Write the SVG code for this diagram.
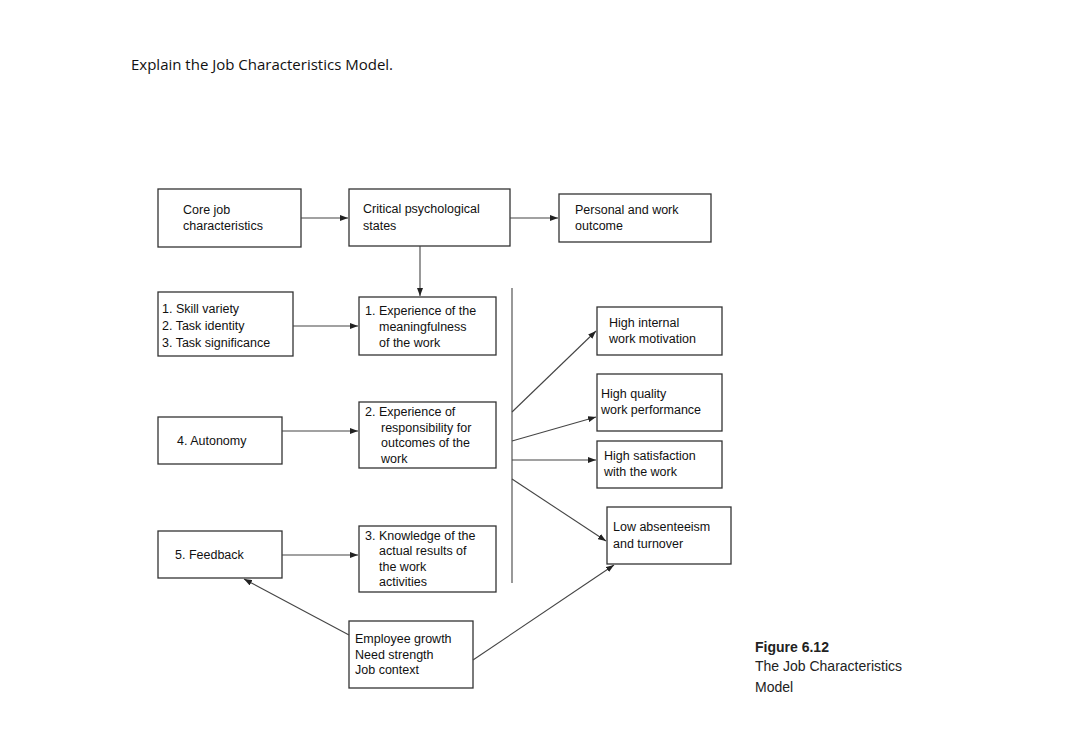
<svg xmlns="http://www.w3.org/2000/svg" width="1080" height="744" viewBox="0 0 1080 744">
<defs>
<marker id="ah" markerWidth="8" markerHeight="6" refX="8" refY="3" orient="auto" markerUnits="userSpaceOnUse"><path d="M0,0 L8,3 L0,6 z" fill="#222"/></marker>
<style>
rect{fill:#fff;stroke:#333;stroke-width:1.3}
text{font-family:"Liberation Sans",Arial,sans-serif;font-size:12.5px;fill:#111}
.c line{stroke:#444;stroke-width:1.1}
.a{marker-end:url(#ah)}
.t{font-family:"Open Sans","Liberation Sans",sans-serif;font-size:15px}
.f{font-size:14px;fill:#222}
</style>
</defs>
<rect x="0" y="0" width="1080" height="744" style="fill:#fff;stroke:none"/>
<text class="t" x="131" y="70">Explain the Job Characteristics Model.</text>
<g id="core"><rect x="158" y="189" width="143" height="58"/><text x="183" y="214">Core job</text><text x="183" y="230">characteristics</text></g>
<g id="critical"><rect x="349" y="189" width="161" height="57"/><text x="363" y="213">Critical psychological</text><text x="363" y="230">states</text></g>
<g id="personal"><rect x="559" y="194" width="152" height="48"/><text x="575" y="214">Personal and work</text><text x="575" y="230">outcome</text></g>
<g id="skill"><rect x="158" y="292" width="135" height="64"/><text x="162" y="313">1. Skill variety</text><text x="162" y="330">2. Task identity</text><text x="162" y="347">3. Task significance</text></g>
<g id="exp1"><rect x="359" y="297" width="137" height="58"/><text x="365" y="315">1. Experience of the</text><text x="379" y="331">meaningfulness</text><text x="379" y="347">of the work</text></g>
<g id="autonomy"><rect x="158" y="417" width="124" height="47"/><text x="177" y="445">4. Autonomy</text></g>
<g id="exp2"><rect x="359" y="402" width="137" height="66"/><text x="365" y="416">2. Experience of</text><text x="381" y="432">responsibility for</text><text x="381" y="447">outcomes of the</text><text x="381" y="463">work</text></g>
<g id="feedback"><rect x="158" y="531" width="124" height="47"/><text x="175" y="559">5. Feedback</text></g>
<g id="exp3"><rect x="359" y="526" width="137" height="66"/><text x="365" y="540">3. Knowledge of the</text><text x="379" y="555">actual results of</text><text x="379" y="571">the work</text><text x="379" y="586">activities</text></g>
<g id="motivation"><rect x="597" y="307" width="125" height="48"/><text x="609" y="327">High internal</text><text x="609" y="343">work motivation</text></g>
<g id="quality"><rect x="597" y="374" width="125" height="57"/><text x="601" y="398">High quality</text><text x="601" y="414">work performance</text></g>
<g id="satisfaction"><rect x="597" y="441" width="125" height="47"/><text x="604" y="460">High satisfaction</text><text x="604" y="476">with the work</text></g>
<g id="absent"><rect x="607" y="507" width="124" height="57"/><text x="613" y="531">Low absenteeism</text><text x="613" y="548">and turnover</text></g>
<g id="employee"><rect x="349" y="621" width="124" height="67"/><text x="355" y="643">Employee growth</text><text x="355" y="659">Need strength</text><text x="355" y="674">Job context</text></g>
<g class="c" id="connectors">
<line class="a" x1="301" y1="218" x2="348" y2="218"/>
<line class="a" x1="510" y1="218" x2="558" y2="218"/>
<line class="a" x1="420" y1="246" x2="420" y2="296"/>
<line class="a" x1="293" y1="326" x2="358" y2="326"/>
<line class="a" x1="282" y1="431" x2="358" y2="431"/>
<line class="a" x1="282" y1="555" x2="358" y2="555"/>
<line x1="512" y1="288" x2="512" y2="583"/>
<line class="a" x1="512" y1="412" x2="596" y2="331"/>
<line class="a" x1="512" y1="441" x2="596" y2="417"/>
<line class="a" x1="512" y1="460" x2="596" y2="460"/>
<line class="a" x1="512" y1="479" x2="606" y2="541"/>
<line class="a" x1="349" y1="635" x2="244" y2="579"/>
<line class="a" x1="473" y1="660" x2="614" y2="565"/>
</g>
<text class="f" x="755" y="652" style="font-weight:bold">Figure 6.12</text>
<text class="f" x="755" y="671">The Job Characteristics</text>
<text class="f" x="755" y="692">Model</text>
</svg>
